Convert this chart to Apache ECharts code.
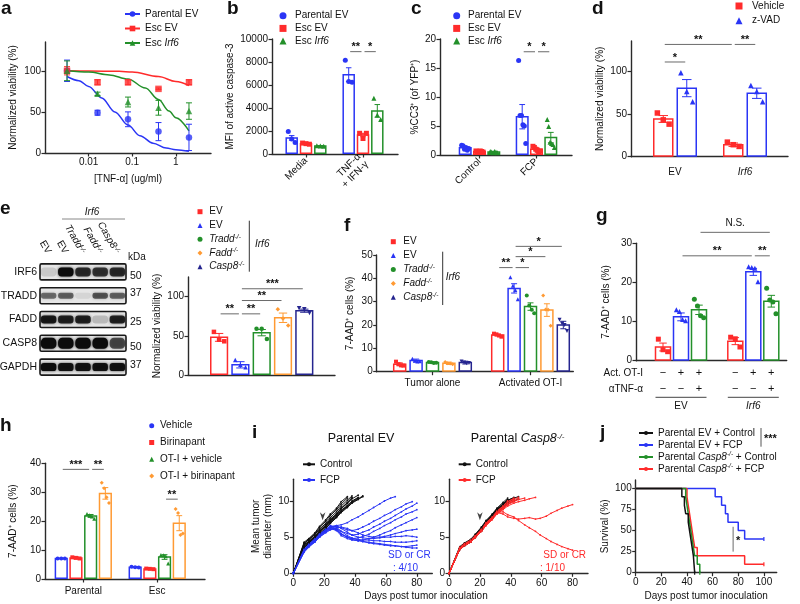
<!DOCTYPE html>
<html>
<head>
<meta charset="utf-8">
<script src="https://cdn.jsdelivr.net/npm/echarts@6.0.0/dist/echarts.min.js"></script>
<style>
html,body{margin:0;padding:0;background:#ffffff;}
#chart{width:800px;height:604px;}
</style>
</head>
<body>
<div id="chart"></div>
<script>
// ======================= DATA =======================
// (a) dose response
const aConc = [0.0032, 0.016, 0.08, 0.4, 2];
const aXTicks = [0.01, 0.1, 1];
const aParentalEV = [100, 49, 41, 26, 19];
const aParentalEVErr = [13, 3, 9, 11, 16];
const aEscEV = [100, 86, 86, 78, 86];
const aEscEVErr = [5, 3, 3, 1, 3];
const aEscIrf6 = [100, 72, 62, 55, 51];
const aEscIrf6Err = [12, 2, 6, 9, 10];
const aFitParentalEV = [[0.0032,93],[0.006,88],[0.01,81],[0.02,67],[0.04,50],[0.08,34],[0.15,21],[0.3,12],[0.6,6],[1,4],[2,2]];
const aFitEscEV = [[0.0032,100],[0.01,99.8],[0.05,99.3],[0.1,98.5],[0.4,93],[1,87],[2,82]];
const aFitEscIrf6 = [[0.0032,100],[0.01,98.5],[0.03,95],[0.08,90],[0.2,79],[0.4,65],[0.7,51],[1,43],[2,27]];

// (b) MFI of active caspase-3
const bGroups = ['Media', 'TNF-α\n+ IFN-γ'];
const bParentalEV = [1400, 6900];
const bParentalEVErr = [200, 600];
const bParentalEVDots = [[1950, 1300, 1000], [8150, 6300, 6250]];
const bEscEV = [900, 1650];
const bEscEVErr = [60, 150];
const bEscEVDots = [[950, 900, 850], [1800, 1350, 1800]];
const bEscIrf6 = [700, 3750];
const bEscIrf6Err = [30, 550];
const bEscIrf6Dots = [[720, 700, 680], [4850, 3400, 3000]];

// (c) %CC3+
const cGroups = ['Control', 'FCP'];
const cParentalEV = [1.25, 6.6];
const cParentalEVErr = [0.2, 2.1];
const cParentalEVDots = [[1.7, 1.6, 1.0, 1.3, 0.8, 1.1], [16.3, 6.8, 6.8, 5.2, 5.0, 2.0]];
const cEscEV = [0.6, 1.0];
const cEscEVErr = [0.08, 0.25];
const cEscEVDots = [[0.7, 0.6, 0.5, 0.7, 0.6, 0.5], [1.5, 1.3, 1.0, 0.8, 0.6, 0.7]];
const cEscIrf6 = [0.5, 3.0];
const cEscIrf6Err = [0.05, 0.9];
const cEscIrf6Dots = [[0.6, 0.5, 0.4, 0.6, 0.5, 0.4], [6.1, 4.9, 2.2, 2.0, 1.8, 1.3]];

// (d) z-VAD
const dGroups = ['EV', '{i|Irf6}'];
const dVehicle = [44, 14];
const dVehicleErr = [4, 2];
const dVehicleDots = [[51, 43, 38], [17, 14, 12]];
const dZVAD = [80, 74];
const dZVADErr = [10, 6];
const dZVADDots = [[98, 76, 64], [83, 76, 64]];

// (e) western blot
const blotLanes = ['EV', 'EV-Irf6', 'Tradd-/-', 'Fadd-/-', 'Casp8-/-'];
const blotProteins = ['IRF6', 'TRADD', 'FADD', 'CASP8', 'GAPDH'];
const blotKDa = [50, 37, 25, 50, 37];
const blotIRF6 = [0.12, 1.0, 0.8, 0.75, 0.8];
const blotTRADD = [0.5, 0.55, 0.08, 0.6, 0.55];
const blotFADD = [0.9, 0.85, 0.85, 0.18, 0.85];
const blotCASP8 = [1.0, 1.0, 1.0, 1.0, 0.65];
const blotGAPDH = [1.0, 0.95, 0.95, 0.95, 0.95];
// (e) viability
const eEV = [48], eEVErr = [5], eEVDots = [[55, 45, 43]];
const eIrf6EV = [13], eIrf6EVErr = [4], eIrf6EVDots = [[19, 13, 10]];
const eTradd = [54], eTraddErr = [4], eTraddDots = [[59, 59, 46]];
const eFadd = [73], eFaddErr = [6], eFaddDots = [[84, 72, 63]];
const eCasp8 = [82], eCasp8Err = [2], eCasp8Dots = [[85, 84, 79]];

// (f) 7-AAD+ cells
const fGroups = ['Tumor alone', 'Activated OT-I'];
const fEV = [3.2, 15.7], fEVErr = [0.6, 0.4], fEVDots = [[4.3, 3.2, 2.7, 2.6], [16.3, 16.0, 15.5, 15.0]];
const fIrf6EV = [4.8, 35.7], fIrf6EVErr = [0.6, 2.0], fIrf6EVDots = [[5.6, 4.7, 4.4, 4.5], [40.5, 36.8, 35.0, 31.0]];
const fTradd = [3.9, 27.9], fTraddErr = [0.3, 1.6], fTraddDots = [[4.2, 4.0, 3.7, 3.8], [32.7, 28.4, 26.5, 25.0]];
const fFadd = [3.6, 26.4], fFaddErr = [0.5, 2.7], fFaddDots = [[4.2, 3.6, 3.5, 3.2], [32.7, 26.7, 26.5, 19.7]];
const fCasp8 = [3.9, 20.0], fCasp8Err = [0.6, 1.6], fCasp8Dots = [[4.4, 3.9, 3.6, 3.7], [22.3, 20.7, 20.0, 17.4]];

// (g) anti-TNF
const gGroups = ['EV', '{i|Irf6}'];
const gActOT = ['−', '+', '+', '−', '+', '+'];
const gAntiTNF = ['−', '−', '+', '−', '−', '+'];
const gNone = [3.5, 5.0], gNoneErr = [1.0, 0.9], gNoneDots = [[5.5, 2.8, 2.3], [6.0, 5.6, 3.5]];
const gOT = [11.2, 22.7], gOTErr = [1.0, 0.9], gOTDots = [[13.0, 12.6, 10.5, 10.2], [24.0, 23.8, 23.6, 20.2]];
const gOTaTNF = [13.0, 15.2], gOTaTNFErr = [1.2, 1.5], gOTaTNFDots = [[15.7, 14.0, 11.5, 11.0], [18.5, 15.5, 15.0, 12.0]];

// (h) birinapant
const hGroups = ['Parental', 'Esc'];
const hVehicle = [7.1, 4.1], hVehicleErr = [0.1, 0.2], hVehicleDots = [[7.1, 7.1, 7.1], [4.2, 4.1, 4.0]];
const hBiri = [7.3, 3.5], hBiriErr = [0.3, 0.2], hBiriDots = [[7.5, 7.3, 7.1], [3.6, 3.5, 3.4]];
const hOTVeh = [21.8, 7.6], hOTVehErr = [0.5, 0.8], hOTVehDots = [[22.5, 22.0, 21.6, 20.8], [8.3, 8.2, 7.9, 5.4]];
const hOTBiri = [29.6, 19.3], hOTBiriErr = [2.0, 2.6], hOTBiriDots = [[33.3, 31.4, 28.3, 26.3], [24.2, 22.8, 15.2, 15.7]];

// (i) tumor growth (mean diameter, mm) at these days
const iDays = [0, 7, 10, 14, 17, 21, 24, 28, 31, 35, 38, 42, 45, 49, 52, 56, 59, 63, 66, 70, 73, 77, 80];
const iArrowEV = [[19, 7.9]];
const iArrowCasp8 = [[20, 7.9]];
const iEVControl = [
  [0,4.2,4.6,5.4,6.1,6.9,7.7,8.5,9.3,10.1,10.7],
  [0,4.0,4.4,5.2,5.9,6.7,7.5,8.2,9.0,9.7,10.3,10.8],
  [0,3.8,4.3,5.0,5.7,6.5,7.2,7.9,8.7,9.4,10.0,10.5],
  [0,4.1,4.7,5.5,6.3,7.2,8.0,8.8,9.6,10.4],
  [0,3.6,4.1,4.8,5.4,6.2,6.9,7.7,8.4,9.1,9.7,10.2,10.6],
  [0,3.9,4.4,5.1,5.8,6.6,7.3,8.1,8.9,9.7,10.4],
  [0,3.7,4.3,5.0,5.8,6.6,7.4,8.2,9.0,9.8,10.5],
  [0,3.5,4.1,4.9,5.6,6.4,7.1,7.9,8.6,9.3,9.9,10.4],
  [0,4.3,4.8,5.6,6.5,7.4,8.2,9.0,9.9,10.6],
  [0,3.6,4.2,4.9,5.5,6.2,7.0,7.8,8.5,9.2,9.8,10.3,10.7]
];
const iEVFCP = [
  [0,3.3,4.0,4.8,5.4,6.0,6.4,6.6,6.7,7.0,7.4,7.8,8.2,8.7,9.1,9.6,10.0,10.4,10.6],
  [0,3.1,3.8,4.5,5.2,5.9,6.3,6.5,6.3,6.0,5.9,6.1,6.4,6.8,7.2,7.6,8.0,8.4,8.8,9.2,9.6,9.9],
  [0,3.0,3.7,4.4,5.0,5.7,6.1,6.2,5.8,5.5,5.3,5.4,5.7,6.0,6.4,6.8,7.2,7.6,8.0,8.5,8.9,9.3,9.7],
  [0,3.2,3.9,4.6,5.3,6.0,6.4,6.0,5.4,5.0,4.8,4.9,5.1,5.4,5.8,6.2,6.6,7.0,7.4,7.8,8.2,8.5,8.8],
  [0,3.1,3.8,4.5,5.1,5.8,6.2,5.9,5.2,4.8,4.6,4.5,4.6,4.8,5.0,5.3,5.6,5.9,6.3,6.7,7.0,7.4,7.7],
  [0,2.9,3.6,4.3,5.0,5.6,6.0,6.3,6.4,6.2,5.9,5.6,5.3,5.1,5.0,5.0,5.1,5.3,5.5,5.7,5.9,6.0,6.1],
  [0,3.2,3.9,4.6,5.3,6.0,6.5,6.2,5.5,5.0,4.7,4.5,4.4,4.3,4.2,4.1,4.0,3.9,3.8,3.7,3.6,3.5,3.5],
  [0,3.0,3.7,4.4,5.1,5.8,6.3,6.0,5.4,5.0,4.8,4.7,4.6,4.6,4.5,4.5,4.4,4.4,4.3,4.3,4.3,4.4,4.5],
  [0,3.3,4.0,4.7,5.4,6.1,6.6,6.4,5.8,5.2,4.9,4.6,4.4,4.2,4.1,4.0,3.9,3.8,3.8,3.7,3.7,3.8,3.9],
  [0,3.1,3.8,4.5,5.2,5.9,6.4,6.6,6.2,5.7,5.3,5.0,4.9,4.8,4.8,4.9,5.0,5.0,5.1,5.1,5.2,5.1,5.0]
];
const iCasp8Control = [
  [0,3.4,3.9,4.4,5.0,6.0,6.9,7.8,8.7,9.4,10.1],
  [0,3.6,4.0,4.5,5.2,6.2,7.1,8.0,8.8,9.5,10.0,10.4],
  [0,3.3,3.8,4.3,4.9,5.8,6.7,7.6,8.4,9.2,9.8,10.3],
  [0,3.7,4.2,4.7,5.4,6.4,7.3,8.2,9.0,9.8,10.4],
  [0,3.5,3.9,4.4,5.1,6.0,6.9,7.7,8.5,9.1,9.6,10.0,10.3],
  [0,3.4,3.9,4.5,5.2,6.1,7.0,7.9,8.8,9.6,10.2],
  [0,3.6,4.1,4.6,5.3,6.3,7.2,8.1,8.9,9.6,10.1,10.5],
  [0,3.5,4.0,4.5,5.1,6.1,7.0,7.9,8.7,9.4,9.9,10.2],
  [0,3.3,3.8,4.3,5.0,5.9,6.8,7.7,8.6,9.3,9.9],
  [0,3.5,4.0,4.6,5.2,6.2,7.1,8.0,8.8,9.5,10.1,10.4,10.6]
];
const iCasp8FCP = [
  [0,3.4,3.9,4.4,5.0,5.9,6.8,7.6,8.4,9.2,9.9,10.3],
  [0,3.5,4.0,4.5,5.1,6.0,6.9,7.7,8.5,9.3,10.0],
  [0,3.3,3.8,4.3,4.9,5.8,6.6,7.4,8.2,8.9,9.5,10.0,10.3],
  [0,3.6,4.1,4.6,5.2,6.1,7.0,7.8,8.6,9.3,9.9,10.4],
  [0,3.4,3.9,4.4,5.0,5.9,6.7,7.5,8.2,8.9,9.5,9.9,10.2,10.4],
  [0,3.5,4.0,4.5,5.1,6.0,6.8,7.6,8.3,9.0,9.6,10.1],
  [0,3.3,3.8,4.3,4.9,5.8,6.6,7.5,8.3,9.1,9.7,10.2,10.5],
  [0,3.4,3.9,4.4,5.0,5.9,6.7,7.5,8.2,8.8,9.3,9.7,9.9,10.1,10.3,10.5],
  [0,3.5,4.0,4.5,5.1,6.0,6.9,7.7,8.4,8.2,7.8,7.6,7.5,7.6,7.7,7.5,7.6,7.9,8.3,8.7,9.0,9.3,9.5],
  [0,3.4,3.9,4.4,5.0,5.9,6.8,7.6,8.4,8.5,8.1,7.8,7.3,6.7,6.3,5.8,5.3,4.8,4.4,4.0,3.7,3.4,3.2]
];

// (j) survival [day, %]
const jEVControl = [[0,100],[36,90],[38,80],[39,70],[41,60],[42,50],[43,40],[44,30],[45,20],[46,0]];
const jEVFCP = [[0,100],[62,90],[67,80],[70,70],[72,60],[80,50],[85,40],[100,40]];
const jCasp8Control = [[0,100],[39,90],[40,80],[41,70],[42,60],[43,50],[44,40],[45,30],[46,20],[48,10],[50,0]];
const jCasp8FCP = [[0,100],[40,90],[41,80],[42,70],[43,60],[44,50],[45,40],[46,30],[48,20],[85,10],[100,10]];
const jSigBar = [[76, 25, 54.5]];

// ======================= STYLE / HELPERS =======================
const FONT = '"Liberation Sans", Arial, Helvetica, sans-serif';
const AXC = '#2a2a2a', TXT = '#111111', BRC = '#6a6a6a';
const COL = {blue:'#2a35f5', red:'#ff2b2b', green:'#23902a', orange:'#ff9a33', navy:'#25258f', black:'#111111'};
const RICH = {
  i:{fontStyle:'italic', fontSize:10, fontFamily:FONT, color:TXT},
  si:{fontStyle:'italic', fontSize:6.5, fontFamily:FONT, color:TXT, verticalAlign:'top', lineHeight:7},
  it:{fontStyle:'italic', fontSize:12.5, fontFamily:FONT, color:TXT},
  sit:{fontStyle:'italic', fontSize:8, fontFamily:FONT, color:TXT, verticalAlign:'top', lineHeight:8}
};
const LBL = {
  'a:Esc Irf6':'Esc {i|Irf6}', 'b:Esc Irf6':'Esc {i|Irf6}', 'c:Esc Irf6':'Esc {i|Irf6}',
  'e:EV2':'EV', 'e:Tradd':'{i|Tradd}{si|-/-}', 'e:Fadd':'{i|Fadd}{si|-/-}', 'e:Casp8':'{i|Casp8}{si|-/-}',
  'f:EV2':'EV', 'f:Tradd':'{i|Tradd}{si|-/-}', 'f:Fadd':'{i|Fadd}{si|-/-}', 'f:Casp8':'{i|Casp8}{si|-/-}',
  'j:EVCtrl':'Parental EV + Control', 'j:EVFCP':'Parental EV + FCP',
  'j:C8Ctrl':'Parental {i|Casp8}{si|-/-} + Control', 'j:C8FCP':'Parental {i|Casp8}{si|-/-} + FCP'
};
const LANE_FMT = {'EV':'EV', 'EV-Irf6':'EV', 'Tradd-/-':'{i|Tradd}{si|-/-}', 'Fadd-/-':'{i|Fadd}{si|-/-}', 'Casp8-/-':'{i|Casp8}{si|-/-}'};
function fmtName(n){ return LBL[n] || n.slice(n.indexOf(':') + 1); }

const grid = [], xAxis = [], yAxis = [], series = [], legend = [], graphic = [];

function addGrid(l, t, w, h){
  grid.push({left:l, top:t, width:w, height:h, containLabel:false, outerBoundsMode:'none'});
  return grid.length - 1;
}
function axisBase(gi, type, o){
  const ax = {gridIndex:gi, type:type, min:o.min, max:o.max, splitLine:{show:false},
    axisLine:{show:true, onZero:false, lineStyle:{color:AXC, width:1.4}},
    axisTick:{show:o.tick !== false, length:3.5, inside:false, lineStyle:{color:AXC, width:1.2}},
    axisLabel:{show:o.label !== false, fontSize:10, color:TXT, fontFamily:FONT, margin:(o.margin == null ? 4 : o.margin), rich:RICH, lineHeight:11,
      formatter:function(v){ return String(+(+v).toPrecision(6)); }}};
  if (o.ticks){ ax.axisTick.customValues = o.ticks; ax.axisLabel.customValues = o.ticks; }
  if (o.formatter) ax.axisLabel.formatter = o.formatter;
  if (o.rotate) ax.axisLabel.rotate = o.rotate;
  if (o.name){
    Object.assign(ax, {name:o.name, nameLocation:'middle', nameGap:o.nameGap, nameRotate:o.nameRotate || 0,
      nameTextStyle:{fontSize:10, color:TXT, fontFamily:FONT, rich:RICH, lineHeight:12}});
  }
  return ax;
}
function addLegend(o){
  const pad = o.textPad || 0;
  delete o.textPad;
  legend.push(Object.assign({orient:'vertical', padding:0, selectedMode:false, itemGap:2, itemWidth:7, itemHeight:7,
    formatter:fmtName, textStyle:{fontSize:10, fontFamily:FONT, color:TXT, lineHeight:12, rich:RICH, padding:[0, 0, 0, pad]}}, o));
}
function errRender(color, capW){
  return function(params, api){
    const x = api.value(0), y = api.value(1), e = api.value(2);
    const hi = api.coord([x, y + e]), lo = api.coord([x, y - e]);
    return {type:'group', children:[
      {type:'line', shape:{x1:hi[0], y1:hi[1], x2:lo[0], y2:lo[1]}, style:{stroke:color, lineWidth:1}},
      {type:'line', shape:{x1:hi[0]-capW/2, y1:hi[1], x2:hi[0]+capW/2, y2:hi[1]}, style:{stroke:color, lineWidth:1}},
      {type:'line', shape:{x1:lo[0]-capW/2, y1:lo[1], x2:lo[0]+capW/2, y2:lo[1]}, style:{stroke:color, lineWidth:1}}
    ]};
  };
}
function bracketSeries(gi, list, xOf){
  const data = list.map((B, k) => [xOf(B.a[0], B.a[1]), B.y, xOf(B.b[0], B.b[1]), k]);
  series.push({type:'custom', xAxisIndex:gi, yAxisIndex:gi, clip:false, silent:true, z:6, data:data,
    renderItem:function(params, api){
      const p1 = api.coord([api.value(0), api.value(1)]), p2 = api.coord([api.value(2), api.value(1)]);
      const txt = list[api.value(3)].t, star = txt.indexOf('*') >= 0;
      return {type:'group', children:[
        {type:'line', shape:{x1:p1[0]+1.5, y1:p1[1], x2:p2[0]-1.5, y2:p2[1]}, style:{stroke:BRC, lineWidth:1}},
        {type:'text', style:{text:txt, x:(p1[0]+p2[0])/2, y:p1[1] - (star ? 4.5 : 9.5), align:'center', verticalAlign:'middle',
          textAlign:'center', textVerticalAlign:'middle', fontSize:star ? 11 : 10, fontWeight:star ? 'bold' : 'normal', fontFamily:FONT, fill:TXT}}
      ]};
    }});
}

// generic bar + dot + error panel (x positions derived from group index through a value axis)
function addBarPanel(P){
  const [L, T, W, H] = P.rect;
  const gi = addGrid(L, T, W, H);
  const unit = P.gc.length > 1 ? P.gc[1] - P.gc[0] : 100;
  const xmin = -(P.gc[0] - L) / unit, xmax = xmin + W / unit, upp = 1 / unit;
  const gIdx = P.groups.map((_, i) => i);
  xAxis.push(axisBase(gi, 'value', {min:xmin, max:xmax, ticks:gIdx, tick:P.xTicks !== false, label:P.xLabels !== false,
    margin:(P.xMargin == null ? 4 : P.xMargin), rotate:P.rotate, formatter:function(v){ const k = Math.round(v); return P.groups[k] == null ? '' : P.groups[k]; }}));
  yAxis.push(axisBase(gi, 'value', {min:0, max:P.ymax, ticks:P.yticks, name:P.yName, nameGap:P.nameGap, nameRotate:90}));
  const S = P.series.length;
  const xOf = (g, s) => g + (s - (S - 1) / 2) * P.spacing * upp;
  const barData = [];
  P.series.forEach((sr, s) => sr.mean.forEach((m, g) => barData.push([xOf(g, s), m, sr.err[g], s])));
  series.push({type:'custom', xAxisIndex:gi, yAxisIndex:gi, clip:false, silent:true, z:2, data:barData,
    renderItem:function(params, api){
      const x = api.value(0), m = api.value(1), e = api.value(2), s = api.value(3);
      const col = P.series[s].color;
      const b = api.coord([x, 0]), t = api.coord([x, m]);
      const hi = api.coord([x, m + e]), lo = api.coord([x, Math.max(0, m - e)]);
      const w = P.barW, cw = w * 0.5;
      return {type:'group', children:[
        {type:'rect', shape:{x:b[0]-w/2, y:t[1], width:w, height:b[1]-t[1]-0.8}, style:{fill:'#ffffff', stroke:col, lineWidth:1.5}},
        {type:'line', shape:{x1:b[0], y1:hi[1], x2:b[0], y2:lo[1]}, style:{stroke:col, lineWidth:1}},
        {type:'line', shape:{x1:b[0]-cw/2, y1:hi[1], x2:b[0]+cw/2, y2:hi[1]}, style:{stroke:col, lineWidth:1}},
        {type:'line', shape:{x1:b[0]-cw/2, y1:lo[1], x2:b[0]+cw/2, y2:lo[1]}, style:{stroke:col, lineWidth:1}}
      ]};
    }});
  P.series.forEach((sr, s) => {
    const pts = [];
    sr.dots.forEach((arr, g) => {
      const n = arr.length;
      arr.forEach((v, k) => {
        const off = n > 1 ? (k / (n - 1) - 0.5) * P.barW * 0.62 : 0;
        pts.push([xOf(g, s) + off * upp, v]);
      });
    });
    series.push({type:'scatter', name:P.key + ':' + sr.name, xAxisIndex:gi, yAxisIndex:gi, symbol:sr.symbol,
      symbolRotate:sr.rot || 0, symbolSize:P.dotSize, itemStyle:{color:sr.color, opacity:1}, data:pts, z:4, silent:true, clip:false});
  });
  if (P.brackets) bracketSeries(gi, P.brackets, xOf);
  if (P.under){
    const U = P.under;
    const ud = [];
    P.groups.forEach((_, g) => P.series.forEach((sr, s) => ud.push([xOf(g, s), 0, g * S + s])));
    series.push({type:'custom', xAxisIndex:gi, yAxisIndex:gi, clip:false, silent:true, z:6, data:ud,
      renderItem:function(params, api){
        const p = api.coord([api.value(0), 0]), k = api.value(2);
        return {type:'group', children:U.rows.map((row, r) => ({type:'text', style:{text:row[k], x:p[0], y:p[1] + U.rowDy[r],
          align:'center', verticalAlign:'middle', textAlign:'center', textVerticalAlign:'middle', fontSize:11, fontFamily:FONT, fill:TXT}}))};
      }});
    const gd = P.groups.map((_, g) => [xOf(g, 0) - P.barW / 2 * upp, 0, xOf(g, S - 1) + P.barW / 2 * upp, g]);
    series.push({type:'custom', xAxisIndex:gi, yAxisIndex:gi, clip:false, silent:true, z:6, data:gd,
      renderItem:function(params, api){
        const p1 = api.coord([api.value(0), 0]), p2 = api.coord([api.value(2), 0]);
        return {type:'group', children:[
          {type:'line', shape:{x1:p1[0], y1:p1[1] + U.lineDy, x2:p2[0], y2:p1[1] + U.lineDy}, style:{stroke:'#444', lineWidth:1}},
          {type:'text', style:{text:P.groups[api.value(3)], rich:RICH, x:(p1[0]+p2[0])/2, y:p1[1] + U.nameDy, align:'center', verticalAlign:'middle',
            textAlign:'center', textVerticalAlign:'middle', fontSize:10, fontFamily:FONT, fill:TXT}}
        ]};
      }});
  }
  return gi;
}

// ======================= PANEL a =======================
const gA = addGrid(45, 42, 166, 111);
xAxis.push(axisBase(gA, 'log', {min:0.001, max:6.4, ticks:aXTicks, formatter:function(v){ return String(+(+v).toPrecision(2)); },
  name:'[TNF-α] (ug/ml)', nameGap:20}));
yAxis.push(axisBase(gA, 'value', {min:0, max:135, ticks:[0, 50, 100], name:'Normalized viability (%)', nameGap:26, nameRotate:90}));
[
  {name:'Parental EV', color:COL.blue, symbol:'circle', y:aParentalEV, e:aParentalEVErr, fit:aFitParentalEV},
  {name:'Esc EV', color:COL.red, symbol:'rect', y:aEscEV, e:aEscEVErr, fit:aFitEscEV},
  {name:'Esc Irf6', color:COL.green, symbol:'triangle', y:aEscIrf6, e:aEscIrf6Err, fit:aFitEscIrf6}
].forEach(s => {
  series.push({type:'line', name:'a:' + s.name, xAxisIndex:gA, yAxisIndex:gA, data:s.fit, smooth:0.35, smoothMonotone:'x',
    showSymbol:false, symbol:s.symbol, symbolSize:6, lineStyle:{color:s.color, width:1.5}, itemStyle:{color:s.color}, z:3, silent:true});
  series.push({type:'custom', xAxisIndex:gA, yAxisIndex:gA, clip:false, silent:true, z:4,
    data:aConc.map((c, i) => [c, s.y[i], s.e[i]]), renderItem:errRender(s.color, 6)});
  series.push({type:'scatter', name:'a:' + s.name + ' pts', xAxisIndex:gA, yAxisIndex:gA, symbol:s.symbol, symbolSize:6.5,
    itemStyle:{color:s.color}, data:aConc.map((c, i) => [c, s.y[i]]), z:5, silent:true});
});
addLegend({left:124, top:8, itemWidth:15, itemHeight:7, itemGap:2.5, data:['a:Parental EV', 'a:Esc EV', 'a:Esc Irf6']});

// ======================= PANEL b =======================
addBarPanel({key:'b', rect:[272, 39, 126, 115], gc:[306, 363], groups:bGroups, rotate:45, xMargin:5, ymax:10000,
  yticks:[0, 2000, 4000, 6000, 8000, 10000], yName:'MFI of active caspase-3', nameGap:31, spacing:14.3, barW:11, dotSize:5,
  series:[
    {name:'Parental EV', color:COL.blue, symbol:'circle', mean:bParentalEV, err:bParentalEVErr, dots:bParentalEVDots},
    {name:'Esc EV', color:COL.red, symbol:'rect', mean:bEscEV, err:bEscEVErr, dots:bEscEVDots},
    {name:'Esc Irf6', color:COL.green, symbol:'triangle', mean:bEscIrf6, err:bEscIrf6Err, dots:bEscIrf6Dots}],
  brackets:[{a:[1,0], b:[1,1], y:8900, t:'**'}, {a:[1,1], b:[1,2], y:8900, t:'*'}]});
addLegend({left:279.5, top:9.7, itemWidth:7, itemHeight:7, itemGap:0.7, textPad:3.5, data:['b:Parental EV', 'b:Esc EV', 'b:Esc Irf6']});

// ======================= PANEL c =======================
addBarPanel({key:'c', rect:[440, 39, 132, 116], gc:[479.5, 536.5], groups:cGroups, rotate:45, xMargin:5, ymax:20,
  yticks:[0, 5, 10, 15, 20], yName:'%CC3⁺ (of YFP⁺)', nameGap:12, spacing:14.3, barW:11.5, dotSize:5,
  series:[
    {name:'Parental EV', color:COL.blue, symbol:'circle', mean:cParentalEV, err:cParentalEVErr, dots:cParentalEVDots},
    {name:'Esc EV', color:COL.red, symbol:'rect', mean:cEscEV, err:cEscEVErr, dots:cEscEVDots},
    {name:'Esc Irf6', color:COL.green, symbol:'triangle', mean:cEscIrf6, err:cEscIrf6Err, dots:cEscIrf6Dots}],
  brackets:[{a:[1,0], b:[1,1], y:17.8, t:'*'}, {a:[1,1], b:[1,2], y:17.8, t:'*'}]});
addLegend({left:453.2, top:9.7, itemWidth:7, itemHeight:7, itemGap:0.7, textPad:2.8, data:['c:Parental EV', 'c:Esc EV', 'c:Esc Irf6']});

// ======================= PANEL d =======================
addBarPanel({key:'d', rect:[631, 41, 157, 115.7], gc:[675, 745], groups:dGroups, xTicks:false, xMargin:10, ymax:135,
  yticks:[0, 50, 100], yName:'Normalized viability (%)', nameGap:20, spacing:23.5, barW:19, dotSize:5.5,
  series:[
    {name:'Vehicle', color:COL.red, symbol:'rect', mean:dVehicle, err:dVehicleErr, dots:dVehicleDots},
    {name:'z-VAD', color:COL.blue, symbol:'triangle', mean:dZVAD, err:dZVADErr, dots:dZVADDots}],
  brackets:[{a:[0,0], b:[0,1], y:110.5, t:'*'}, {a:[0,0], b:[1,0], y:131, t:'**'}, {a:[1,0], b:[1,1], y:131, t:'**'}]});
addLegend({left:735.5, top:0, itemWidth:7, itemHeight:7, itemGap:2.7, textPad:4.5, data:['d:Vehicle', 'd:z-VAD']});

// ======================= PANEL e : blot =======================
const gBlot = addGrid(40, 260, 86, 119);
xAxis.push({gridIndex:gBlot, type:'category', data:blotLanes, position:'top', axisLine:{show:false}, axisTick:{show:false},
  splitLine:{show:false}, axisLabel:{interval:0, rotate:60, margin:7, fontSize:10, color:TXT, fontFamily:FONT, rich:RICH,
  formatter:function(v){ return LANE_FMT[v] || v; }}});
yAxis.push({gridIndex:gBlot, type:'category', data:blotProteins, inverse:true, axisLine:{show:false}, axisTick:{show:false},
  splitLine:{show:false}, axisLabel:{margin:3, fontSize:10.5, color:TXT, fontFamily:FONT}});
const BAND_H = [9, 6, 8, 11, 8];
const KDA_DY = [4, -3, 3, 4, -1.5];
series.push({type:'custom', xAxisIndex:gBlot, yAxisIndex:gBlot, clip:false, silent:true, z:2,
  data:blotProteins.map((p, r) => [2, r]),
  renderItem:function(params, api){
    const c = api.coord([api.value(0), api.value(1)]), sz = api.size([1, 1]);
    const w = sz[0] * 5, h = 16;
    return {type:'rect', shape:{x:c[0]-w/2, y:c[1]-h/2, width:w, height:h, r:1.5}, style:{fill:'#e6e6e6', stroke:'#1a1a1a', lineWidth:1.6}};
  }});
const blotData = [];
[blotIRF6, blotTRADD, blotFADD, blotCASP8, blotGAPDH].forEach((arr, r) => arr.forEach((v, l) => blotData.push([l, r, v])));
series.push({type:'custom', xAxisIndex:gBlot, yAxisIndex:gBlot, clip:false, silent:true, z:3, data:blotData,
  renderItem:function(params, api){
    const l = api.value(0), r = api.value(1), v = api.value(2);
    const c = api.coord([l, r]), sz = api.size([1, 1]);
    const bw = sz[0] * 0.9, bh = BAND_H[r];
    return {type:'rect', shape:{x:c[0]-bw/2, y:c[1]-bh/2, width:bw, height:bh, r:bh/2.5},
      style:{fill:'rgba(12,12,12,' + v + ')', shadowBlur:3, shadowColor:'rgba(12,12,12,' + (v * 0.8) + ')'}};
  }});
series.push({type:'custom', xAxisIndex:gBlot, yAxisIndex:gBlot, clip:false, silent:true, z:3,
  data:blotKDa.map((k, r) => [4, r, k]),
  renderItem:function(params, api){
    const c = api.coord([api.value(0), api.value(1)]), sz = api.size([1, 1]);
    return {type:'text', style:{text:String(api.value(2)), x:c[0] + sz[0]/2 + 4, y:c[1] + KDA_DY[api.value(1)], align:'left', verticalAlign:'middle',
      textAlign:'left', textVerticalAlign:'middle', fontSize:10.5, fontFamily:FONT, fill:TXT}};
  }});

// ======================= PANEL e : viability =======================
addBarPanel({key:'e', rect:[188, 277, 147, 98], gc:[261.7], groups:[''], xTicks:false, xLabels:false, ymax:125,
  yticks:[0, 50, 100], yName:'Normalized viability (%)', nameGap:19, spacing:21.3, barW:16.7, dotSize:4.5,
  series:[
    {name:'EV', color:COL.red, symbol:'rect', mean:eEV, err:eEVErr, dots:eEVDots},
    {name:'EV2', color:COL.blue, symbol:'triangle', mean:eIrf6EV, err:eIrf6EVErr, dots:eIrf6EVDots},
    {name:'Tradd', color:COL.green, symbol:'circle', mean:eTradd, err:eTraddErr, dots:eTraddDots},
    {name:'Fadd', color:COL.orange, symbol:'diamond', mean:eFadd, err:eFaddErr, dots:eFaddDots},
    {name:'Casp8', color:COL.navy, symbol:'triangle', rot:180, mean:eCasp8, err:eCasp8Err, dots:eCasp8Dots}],
  brackets:[{a:[0,0], b:[0,1], y:78, t:'**'}, {a:[0,1], b:[0,2], y:78, t:'**'}, {a:[0,1], b:[0,3], y:95, t:'**'}, {a:[0,1], b:[0,4], y:110, t:'***'}]});
addLegend({left:197.5, top:205.7, itemWidth:5, itemHeight:5, itemGap:1.75, textPad:1.8, data:['e:EV', 'e:EV2', 'e:Tradd', 'e:Fadd', 'e:Casp8']});

// ======================= PANEL f =======================
addBarPanel({key:'f', rect:[376.7, 255, 196.6, 116.7], gc:[432.5, 530.5], groups:fGroups, xMargin:6, ymax:50,
  yticks:[0, 10, 20, 30, 40, 50], yName:'7-AAD⁺ cells (%)', nameGap:20.7, spacing:16.4, barW:12, dotSize:4,
  series:[
    {name:'EV', color:COL.red, symbol:'rect', mean:fEV, err:fEVErr, dots:fEVDots},
    {name:'EV2', color:COL.blue, symbol:'triangle', mean:fIrf6EV, err:fIrf6EVErr, dots:fIrf6EVDots},
    {name:'Tradd', color:COL.green, symbol:'circle', mean:fTradd, err:fTraddErr, dots:fTraddDots},
    {name:'Fadd', color:COL.orange, symbol:'diamond', mean:fFadd, err:fFaddErr, dots:fFaddDots},
    {name:'Casp8', color:COL.navy, symbol:'triangle', rot:180, mean:fCasp8, err:fCasp8Err, dots:fCasp8Dots}],
  brackets:[{a:[1,0], b:[1,1], y:44.6, t:'**'}, {a:[1,1], b:[1,2], y:44.6, t:'*'}, {a:[1,1], b:[1,3], y:49.3, t:'*'}, {a:[1,1], b:[1,4], y:53.7, t:'*'}]});
addLegend({left:390.8, top:235.7, itemWidth:5, itemHeight:5, itemGap:1.9, textPad:2.5, data:['f:EV', 'f:EV2', 'f:Tradd', 'f:Fadd', 'f:Casp8']});

// ======================= PANEL g =======================
addBarPanel({key:'g', rect:[636, 243.3, 150.7, 117.4], gc:[681, 753.3], groups:gGroups, xTicks:false, xLabels:false, ymax:30,
  yticks:[0, 10, 20, 30], yName:'7-AAD⁺ cells (%)', nameGap:23.3, spacing:18, barW:15, dotSize:5,
  series:[
    {name:'none', color:COL.red, symbol:'rect', mean:gNone, err:gNoneErr, dots:gNoneDots},
    {name:'OT', color:COL.blue, symbol:'triangle', mean:gOT, err:gOTErr, dots:gOTDots},
    {name:'OTaTNF', color:COL.green, symbol:'circle', mean:gOTaTNF, err:gOTaTNFErr, dots:gOTaTNFDots}],
  brackets:[{a:[0,1], b:[1,1], y:26.8, t:'**'}, {a:[1,1], b:[1,2], y:26.8, t:'**'}, {a:[0,2], b:[1,2], y:32.8, t:'N.S.'}],
  under:{rows:[gActOT, gAntiTNF], rowDy:[12.6, 28.6], lineDy:36.6, nameDy:46}});

// ======================= PANEL h =======================
addBarPanel({key:'h', rect:[45, 463.3, 160, 115.7], gc:[83.3, 157.2], groups:hGroups, xMargin:7, ymax:40,
  yticks:[0, 10, 20, 30, 40], yName:'7-AAD⁺ cells (%)', nameGap:25.7, spacing:14.7, barW:11.7, dotSize:4,
  series:[
    {name:'Vehicle', color:COL.blue, symbol:'circle', mean:hVehicle, err:hVehicleErr, dots:hVehicleDots},
    {name:'Birinapant', color:COL.red, symbol:'rect', mean:hBiri, err:hBiriErr, dots:hBiriDots},
    {name:'OT-I + vehicle', color:COL.green, symbol:'triangle', mean:hOTVeh, err:hOTVehErr, dots:hOTVehDots},
    {name:'OT-I + birinapant', color:COL.orange, symbol:'diamond', mean:hOTBiri, err:hOTBiriErr, dots:hOTBiriDots}],
  brackets:[{a:[0,0], b:[0,2], y:37.9, t:'***'}, {a:[0,2], b:[0,3], y:37.9, t:'**'}, {a:[1,2], b:[1,3], y:27.6, t:'**'}]});
addLegend({left:149.2, top:419.7, itemWidth:5, itemHeight:5, itemGap:4.8, textPad:0.8, data:['h:Vehicle', 'h:Birinapant', 'h:OT-I + vehicle', 'h:OT-I + birinapant']});

// ======================= PANEL i =======================
function tumorPanel(left, ctrl, fcp, fcpColor, key, arrow, yName){
  const gi = addGrid(left, 479.3, 139, 94);
  xAxis.push(axisBase(gi, 'value', {min:0, max:90, ticks:[0, 20, 40, 60, 80]}));
  yAxis.push(axisBase(gi, 'value', {min:0, max:13, ticks:[0, 5, 10], name:yName, nameGap:15, nameRotate:90}));
  const add = (arrs, name, color) => arrs.forEach(arr => series.push({type:'line', name:name, xAxisIndex:gi, yAxisIndex:gi,
    data:arr.map((v, k) => [iDays[k], v]), symbol:'circle', symbolSize:1.8, showSymbol:true, lineStyle:{color:color, width:1},
    itemStyle:{color:color}, z:3, silent:true}));
  add(ctrl, key + ':Control', COL.black);
  add(fcp, key + ':FCP', fcpColor);
  series.push({type:'scatter', xAxisIndex:gi, yAxisIndex:gi, data:arrow, symbol:'path://M0,0 L5,4 L10,0 L5,12 Z', symbolSize:[5.5, 8],
    itemStyle:{color:'#111'}, z:6, silent:true});
  addLegend({left:left + 8.7, top:458.3, itemWidth:12, itemHeight:5, itemGap:3.7, data:[key + ':Control', key + ':FCP']});
  return gi;
}
tumorPanel(293.3, iEVControl, iEVFCP, COL.blue, 'iL', iArrowEV, 'Mean tumor\ndiameter (mm)');
tumorPanel(449, iCasp8Control, iCasp8FCP, COL.red, 'iR', iArrowCasp8, '');

// ======================= PANEL j =======================
const gJ = addGrid(635.7, 480, 141, 92.7);
xAxis.push(axisBase(gJ, 'value', {min:0, max:110, ticks:[0, 20, 40, 60, 80, 100], name:'Days post tumor inoculation', nameGap:18}));
yAxis.push(axisBase(gJ, 'value', {min:0, max:110, ticks:[0, 25, 50, 75, 100], name:'Survival (%)', nameGap:21.4, nameRotate:90}));
[
  {name:'j:EVFCP', color:COL.blue, data:jEVFCP},
  {name:'j:C8FCP', color:COL.red, data:jCasp8FCP},
  {name:'j:C8Ctrl', color:COL.green, data:jCasp8Control},
  {name:'j:EVCtrl', color:COL.black, data:jEVControl}
].forEach(s => {
  const last = s.data.length - 1;
  series.push({type:'line', name:s.name, xAxisIndex:gJ, yAxisIndex:gJ, step:'end', symbol:'circle', symbolSize:2.5, showSymbol:true,
    data:s.data.map((p, i) => i === last ? {value:p, symbol:'rect', symbolSize:[1.2, 4]} : {value:p, symbol:'none'}),
    lineStyle:{color:s.color, width:1.5}, itemStyle:{color:s.color}, z:3, silent:true, clip:false});
});
addLegend({left:638, top:427, itemWidth:14, itemHeight:5, itemGap:0, data:['j:EVCtrl', 'j:EVFCP', 'j:C8Ctrl', 'j:C8FCP']});
series.push({type:'custom', xAxisIndex:gJ, yAxisIndex:gJ, clip:false, silent:true, z:6, data:jSigBar,
  renderItem:function(params, api){
    const p1 = api.coord([api.value(0), api.value(1)]), p2 = api.coord([api.value(0), api.value(2)]);
    return {type:'group', children:[
      {type:'line', shape:{x1:p1[0], y1:p1[1], x2:p2[0], y2:p2[1]}, style:{stroke:BRC, lineWidth:1}},
      {type:'text', style:{text:'*', x:p1[0] + 3, y:(p1[1] + p2[1]) / 2 + 2, align:'left', verticalAlign:'middle', textAlign:'left',
        textVerticalAlign:'middle', fontSize:11, fontWeight:'bold', fontFamily:FONT, fill:TXT}}
    ]};
  }});

// ======================= ANNOTATION TEXT =======================
function T(text, x, y, o){
  o = o || {};
  graphic.push({type:'text', x:x, y:y, z:100, silent:true, style:{text:text, fill:o.color || TXT, fontSize:o.size || 10,
    fontWeight:o.bold ? 'bold' : 'normal', fontStyle:o.italic ? 'italic' : 'normal', fontFamily:FONT, rich:RICH,
    align:o.align || 'left', verticalAlign:'middle', textAlign:o.align || 'left', textVerticalAlign:'middle'}});
}
function LN(x1, y1, x2, y2, c){ graphic.push({type:'line', z:100, silent:true, shape:{x1:x1, y1:y1, x2:x2, y2:y2}, style:{stroke:c || '#333', lineWidth:1}}); }
const LET = {size:19, bold:true};
T('a', 1, 8.7, LET); T('b', 227, 8.7, LET); T('c', 411, 8.7, LET); T('d', 592, 8.7, LET);
T('e', 0, 208.7, LET); T('f', 344, 225.7, LET); T('g', 596, 215.7, LET);
T('h', 0, 425.7, LET); T('i', 252, 432.7, LET); T('j', 600, 432.7, LET);
// blot headers
T('Irf6', 92, 212, {italic:true, align:'center'});
LN(62, 219, 125, 219, '#888');
T('kDa', 128, 257);
// e / f legend group brackets
LN(249.3, 220.7, 249.3, 271.7); T('Irf6', 255, 244.3, {italic:true});
LN(442.7, 251.7, 442.7, 305); T('Irf6', 445.7, 277.7, {italic:true});
// g row labels
T('Act. OT-I', 643, 373.3, {align:'right'});
T('αTNF-α', 643, 389.3, {align:'right'});
// i titles and notes
T('Parental EV', 361, 439, {size:12.5, align:'center'});
T('Parental {it|Casp8}{sit|-/-}', 517.5, 439, {size:12.5, align:'center'});
T('Days post tumor inoculation', 426, 596.7, {align:'center'});
T('SD or CR', 388, 555.7, {color:COL.blue});
T(': 4/10', 393, 568.5, {color:COL.blue});
T('SD or CR', 543.3, 555.7, {color:COL.red});
T(': 1/10', 540, 568.5, {color:COL.red});
// j legend significance
LN(761, 428, 761, 446.7, '#555');
T('***', 764, 439, {bold:true, size:11});

// ======================= RENDER =======================
const chart = echarts.init(document.getElementById('chart'), null, {renderer:'canvas'});
chart.setOption({animation:false, backgroundColor:'#ffffff', textStyle:{fontFamily:FONT},
  grid:grid, xAxis:xAxis, yAxis:yAxis, series:series, legend:legend, graphic:graphic, tooltip:{show:false}});
</script>
</body>
</html>
